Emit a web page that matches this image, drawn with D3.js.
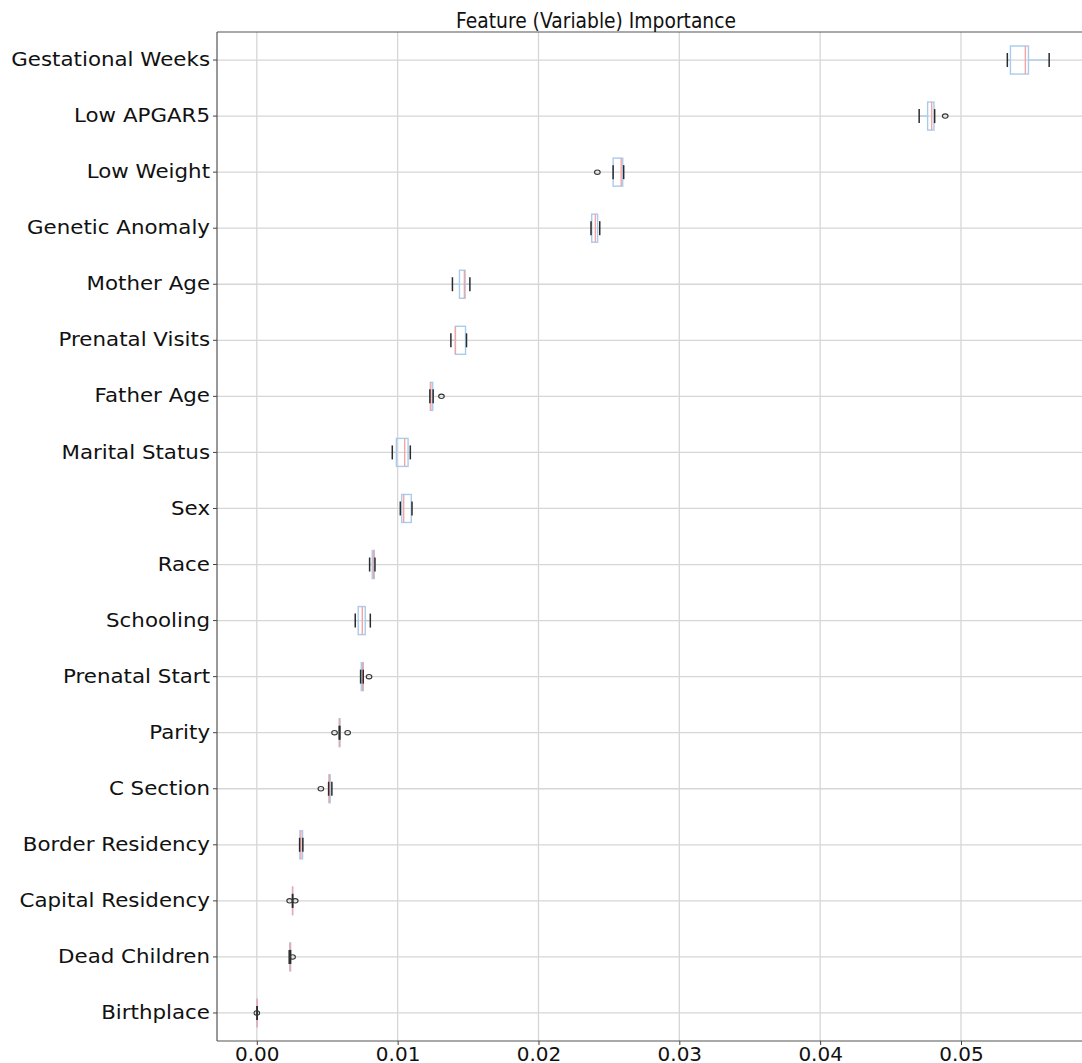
<!DOCTYPE html>
<html>
<head>
<meta charset="utf-8">
<script src="https://cdn.jsdelivr.net/npm/d3@7"></script>
<style>
  html, body { margin: 0; padding: 0; background: #fff; }
  svg { display: block; }
  text { font-family: "DejaVu Sans", sans-serif; fill: #111; }
</style>
</head>
<body>
<svg id="chart" width="1082" height="1063"></svg>
<script>
// Permutation importance per feature, summarised as box-plot statistics
const features = [
  "Gestational Weeks", "Low APGAR5", "Low Weight", "Genetic Anomaly",
  "Mother Age", "Prenatal Visits", "Father Age", "Marital Status", "Sex",
  "Race", "Schooling", "Prenatal Start", "Parity", "C Section",
  "Border Residency", "Capital Residency", "Dead Children", "Birthplace"
];
const whiskerLow  = [0.05329, 0.04703, 0.02530, 0.02373, 0.01389, 0.01378, 0.01229, 0.00962, 0.01019, 0.00801, 0.00699, 0.00737, 0.00585, 0.00510, 0.00304, 0.00254, 0.00230, 0.00002];
const q1          = [0.05351, 0.04763, 0.02530, 0.02378, 0.01439, 0.01410, 0.01232, 0.00991, 0.01029, 0.00820, 0.00720, 0.00742, 0.00585, 0.00512, 0.00306, 0.00254, 0.00234, 0.00002];
const median      = [0.05457, 0.04792, 0.02587, 0.02404, 0.01474, 0.01410, 0.01236, 0.01050, 0.01043, 0.00830, 0.00749, 0.00752, 0.00588, 0.00516, 0.00313, 0.00254, 0.00237, 0.00002];
const q3          = [0.05479, 0.04808, 0.02598, 0.02420, 0.01479, 0.01482, 0.01249, 0.01074, 0.01097, 0.00834, 0.00770, 0.00756, 0.00590, 0.00521, 0.00325, 0.00254, 0.00240, 0.00002];
const whiskerHigh = [0.05626, 0.04813, 0.02605, 0.02435, 0.01513, 0.01489, 0.01252, 0.01090, 0.01102, 0.00839, 0.00806, 0.00756, 0.00590, 0.00533, 0.00327, 0.00254, 0.00240, 0.00002];
const outliers    = [[], [0.04888], [0.02418], [], [], [], [0.01311], [], [], [], [], [0.00797], [0.00552, 0.00645], [0.00455], [], [0.00233, 0.00273], [0.00254], [0.0]];
const xTicks = [0, 0.01, 0.02, 0.03, 0.04, 0.05];
const title = "Feature (Variable) Importance";

const svg = d3.select("#chart");
const plot = { left: 217, right: 1090, top: 32, bottom: 1041 };

const x = d3.scaleLinear().domain([-0.002826, 0.05916]).range([plot.left, plot.right]);
const y = d3.scaleBand().domain(features).range([plot.top, plot.bottom]).padding(0);
const bw = y.bandwidth();
const cy = f => y(f) + bw / 2;

const boxColor = "#a9cbec";
const medianColor = "#f4a4a4";
const capColor = "#2b2b2b";
const gridColor = "#d6d6d6";

// grid lines
const grid = svg.append("g");
grid.selectAll("line.vg").data(xTicks).join("line")
  .attr("x1", d => x(d)).attr("x2", d => x(d))
  .attr("y1", plot.top).attr("y2", plot.bottom)
  .attr("stroke", gridColor).attr("stroke-width", 1.3);
grid.selectAll("line.hg").data(features).join("line")
  .attr("x1", plot.left).attr("x2", plot.right)
  .attr("y1", d => cy(d)).attr("y2", d => cy(d))
  .attr("stroke", gridColor).attr("stroke-width", 1.3);

// boxes
const rows = features.map((f, i) => ({
  f, lo: whiskerLow[i], q1: q1[i], med: median[i], q3: q3[i], hi: whiskerHigh[i], out: outliers[i]
}));
const g = svg.append("g").selectAll("g").data(rows).join("g");

g.append("line") // lower whisker
  .attr("x1", d => x(d.lo)).attr("x2", d => x(d.q1))
  .attr("y1", d => cy(d.f)).attr("y2", d => cy(d.f))
  .attr("stroke", boxColor).attr("stroke-width", 1.3);
g.append("line") // upper whisker
  .attr("x1", d => x(d.q3)).attr("x2", d => x(d.hi))
  .attr("y1", d => cy(d.f)).attr("y2", d => cy(d.f))
  .attr("stroke", boxColor).attr("stroke-width", 1.3);
g.append("rect")
  .attr("x", d => x(d.q1)).attr("width", d => Math.max(0.01, x(d.q3) - x(d.q1)))
  .attr("y", d => cy(d.f) - bw / 4).attr("height", bw / 2)
  .attr("fill", "none").attr("stroke", boxColor).attr("stroke-width", 1.4);
g.append("line") // median
  .attr("x1", d => x(d.med)).attr("x2", d => x(d.med))
  .attr("y1", d => cy(d.f) - bw / 4).attr("y2", d => cy(d.f) + bw / 4)
  .attr("stroke", medianColor).attr("stroke-width", 1.4);
["lo", "hi"].forEach(k => {
  g.append("line")
    .attr("x1", d => x(d[k])).attr("x2", d => x(d[k]))
    .attr("y1", d => cy(d.f) - bw / 8).attr("y2", d => cy(d.f) + bw / 8)
    .attr("stroke", capColor).attr("stroke-width", 1.5);
});
g.selectAll("ellipse").data(d => d.out.map(v => ({ v, f: d.f }))).join("ellipse")
  .attr("cx", d => x(d.v)).attr("cy", d => cy(d.f))
  .attr("rx", 2.8).attr("ry", 2.2)
  .attr("fill", "none").attr("stroke", "#333").attr("stroke-width", 1.1);

// spines
svg.append("line").attr("x1", plot.left).attr("x2", plot.right).attr("y1", plot.top).attr("y2", plot.top)
  .attr("stroke", "#555").attr("stroke-width", 1.2);
svg.append("line").attr("x1", plot.left).attr("x2", plot.right).attr("y1", plot.bottom).attr("y2", plot.bottom)
  .attr("stroke", "#555").attr("stroke-width", 1.2);
svg.append("line").attr("x1", plot.left).attr("x2", plot.left).attr("y1", plot.top).attr("y2", plot.bottom)
  .attr("stroke", "#555").attr("stroke-width", 1.2);

// axes
const xAxis = svg.append("g").attr("transform", `translate(0,${plot.bottom})`)
  .call(d3.axisBottom(x).tickValues(xTicks).tickFormat(d3.format(".2f")).tickSize(4).tickPadding(2));
xAxis.select(".domain").remove();
xAxis.selectAll("line").attr("stroke", "#444");
xAxis.selectAll("text").attr("font-size", 20).attr("font-family", "DejaVu Sans").attr("fill", "#111");

const yAxis = svg.append("g").attr("transform", `translate(${plot.left},0)`)
  .call(d3.axisLeft(y).tickSize(4).tickPadding(2.2));
yAxis.select(".domain").remove();
yAxis.selectAll("line").attr("stroke", "#444");
// category labels are set slightly wide
yAxis.selectAll("text").attr("font-size", 19).attr("font-family", "DejaVu Sans").attr("fill", "#111")
  .attr("transform", "scale(1.125,1)");

svg.append("text").attr("x", 596).attr("y", 28).attr("text-anchor", "middle")
  .attr("font-size", 21).attr("textLength", 280).attr("lengthAdjust", "spacingAndGlyphs")
  .text(title);
</script>
</body>
</html>
